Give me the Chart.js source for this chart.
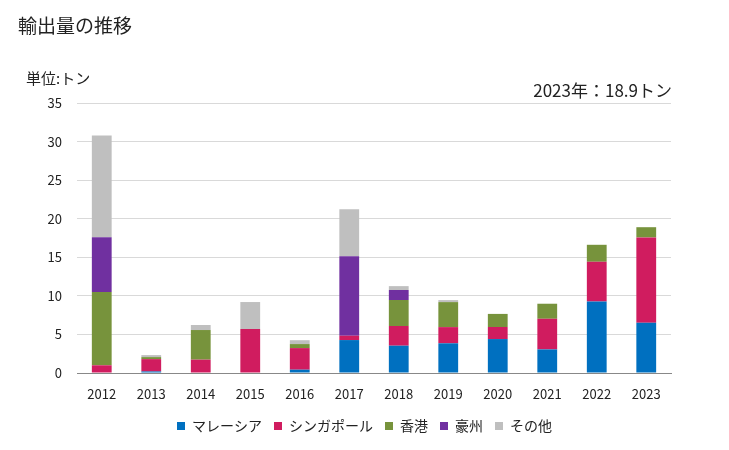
<!DOCTYPE html>
<html>
<head>
<meta charset="utf-8">
<script src="https://cdn.jsdelivr.net/npm/chart.js@4"></script>
<style>
  html, body { margin: 0; padding: 0; background: #fff; }
  #wrap { width: 729px; height: 450px; position: relative; }
</style>
</head>
<body>
<div id="wrap"><canvas id="chart" width="729" height="450"></canvas></div>
<script>
// 年（横軸）
const years = ['2012', '2013', '2014', '2015', '2016', '2017', '2018', '2019', '2020', '2021', '2022', '2023'];

// 国別の輸出量（トン）
const malaysia  = [0, 0.2, 0, 0, 0.43, 4.27, 3.54, 3.85, 4.4, 3.06, 9.27, 6.5];
const singapore = [1.0, 1.6, 1.73, 5.7, 2.8, 0.56, 2.55, 2.1, 1.56, 3.97, 5.15, 11.07];
const hongkong  = [9.5, 0.26, 3.84, 0, 0.52, 0, 3.37, 3.24, 1.7, 1.95, 2.2, 1.33];
const australia = [7.1, 0, 0, 0, 0, 10.3, 1.3, 0, 0, 0, 0, 0];
const others    = [13.2, 0.26, 0.65, 3.5, 0.5, 6.1, 0.5, 0.26, 0, 0, 0, 0];

const seriesNames = ['マレーシア', 'シンガポール', '香港', '豪州', 'その他'];
const seriesData = [malaysia, singapore, hongkong, australia, others];
const seriesColors = ['#0070C0', '#D01C5F', '#77933C', '#7030A0', '#BFBFBF'];

const yTicks = [0, 5, 10, 15, 20, 25, 30, 35];

const chartTitle = '輸出量の推移';
const unitLabel = '単位:トン';
const latestNote = '2023年：18.9トン';

const FONT = '"Noto Sans CJK JP", "Noto Sans", sans-serif';

// タイトル等のテキスト描画
const textPlugin = {
    id: 'texts',
    afterDraw(chart) {
        const ctx = chart.ctx;
        ctx.save();
        ctx.fillStyle = '#222';
        ctx.textBaseline = 'middle';
        ctx.font = '19px ' + FONT;
        ctx.textAlign = 'left';
        ctx.fillText(chartTitle, 18, 26);
        ctx.font = '15px ' + FONT;
        ctx.fillText(unitLabel, 26, 78);
        ctx.font = '17px ' + FONT;
        ctx.textAlign = 'right';
        ctx.fillText(latestNote, chart.chartArea.right + 1, 91);
        ctx.restore();
    }
};

const datasets = seriesNames.map((name, i) => ({
    label: name,
    data: seriesData[i],
    backgroundColor: seriesColors[i],
    borderWidth: 0,
    barPercentage: 0.4,
    categoryPercentage: 1.0
}));

const ctx = document.getElementById('chart').getContext('2d');
new Chart(ctx, {
    type: 'bar',
    data: {
        labels: years,
        datasets: datasets
    },
    options: {
        responsive: false,
        animation: false,
        layout: {
            padding: { top: 103, right: 0, bottom: 7, left: 0 }
        },
        scales: {
            x: {
                stacked: true,
                grid: { display: false },
                border: { color: '#888', width: 1 },
                ticks: {
                    color: '#222',
                    font: { family: FONT, size: 13 },
                    padding: 5
                },
                afterFit(scale) { scale.height = 34; }
            },
            y: {
                stacked: true,
                min: 0,
                max: 35,
                afterBuildTicks(scale) {
                    scale.ticks = yTicks.map(v => ({ value: v }));
                },
                grid: {
                    color: ctx => ctx.tick && ctx.tick.value === 0 ? '#888' : '#d9d9d9',
                    lineWidth: 1,
                    drawTicks: false
                },
                border: { display: false },
                ticks: {
                    color: '#222',
                    font: { family: FONT, size: 13 },
                    padding: 15
                },
                afterFit(scale) { scale.width = 77; }
            },
            // 右側の余白用（表示なし）
            yRight: {
                position: 'right',
                grid: { display: false },
                border: { display: false },
                ticks: { display: false },
                afterFit(scale) { scale.width = 58; }
            }
        },
        plugins: {
            title: { display: false },
            tooltip: { enabled: false },
            legend: {
                position: 'bottom',
                labels: {
                    boxWidth: 8,
                    boxHeight: 8,
                    color: '#222',
                    font: { family: FONT, size: 14 },
                    padding: 12
                }
            }
        }
    },
    plugins: [textPlugin]
});
</script>
</body>
</html>
